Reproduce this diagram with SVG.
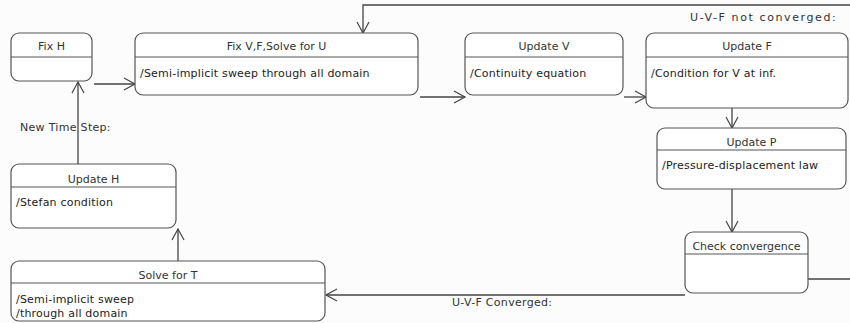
<svg xmlns="http://www.w3.org/2000/svg" width="850" height="323" viewBox="0 0 850 323">
<style>
.box{fill:#fff;stroke:#555;stroke-width:1.2}
.div{stroke:#555;stroke-width:1.2}
.hd{font-family:"DejaVu Sans","Liberation Sans",sans-serif;font-size:11px;fill:#333;text-anchor:middle}
.bd{font-family:"DejaVu Sans","Liberation Sans",sans-serif;font-size:11px;letter-spacing:0.2px;fill:#222}
.lbl{font-family:"DejaVu Sans","Liberation Sans",sans-serif;font-size:11px;letter-spacing:0.3px;fill:#333}
.cn{fill:none;stroke:#444;stroke-width:1.3}
</style>
<defs>
<marker id="ah" markerWidth="14" markerHeight="14" refX="12" refY="7" orient="auto" markerUnits="userSpaceOnUse">
<path d="M1,1 L12,7 L1,13" fill="none" stroke="#444" stroke-width="1.2"/>
</marker>
</defs>
<rect width="850" height="323" fill="#fcfcfc"/>
<g id="connectors">
<path class="cn" d="M94,84 L135,84" marker-end="url(#ah)"/>
<path class="cn" d="M420,97 L465,97" marker-end="url(#ah)"/>
<path class="cn" d="M624,97 L646,97" marker-end="url(#ah)"/>
<path class="cn" d="M850,5 L363,5 L363,33" marker-end="url(#ah)"/>
<path class="cn" d="M732,108 L732,128" marker-end="url(#ah)"/>
<path class="cn" d="M732,189 L732,232" marker-end="url(#ah)"/>
<path class="cn" d="M808,279 L850,279"/>
<path class="cn" d="M685,295 L326,295" marker-end="url(#ah)"/>
<path class="cn" d="M178,261 L178,229" marker-end="url(#ah)"/>
<path class="cn" d="M78,164 L78,82" marker-end="url(#ah)"/>
<text class="lbl" x="20" y="131">New Time Step:</text>
<text class="lbl" x="690" y="21" textLength="146" lengthAdjust="spacing">U-V-F not converged:</text>
<text class="lbl" x="452" y="306">U-V-F Converged:</text>
</g>
<g id="fixH">
<rect class="box" x="11" y="33" width="81" height="48" rx="8"/>
<line class="div" x1="11" y1="57" x2="92" y2="57"/>
<text class="hd" x="51.5" y="50">Fix H</text>
</g>
<g id="fixVF">
<rect class="box" x="135" y="33" width="283" height="62" rx="8"/>
<line class="div" x1="135" y1="57" x2="418" y2="57"/>
<text class="hd" x="276.5" y="50">Fix V,F,Solve for U</text>
<text class="bd" x="140" y="77">/Semi-implicit sweep through all domain</text>
</g>
<g id="updateV">
<rect class="box" x="465" y="33" width="158" height="62" rx="8"/>
<line class="div" x1="465" y1="57" x2="623" y2="57"/>
<text class="hd" x="544" y="50">Update V</text>
<text class="bd" x="470" y="77">/Continuity equation</text>
</g>
<g id="updateF">
<rect class="box" x="646" y="33" width="202" height="75" rx="8"/>
<line class="div" x1="646" y1="57" x2="848" y2="57"/>
<text class="hd" x="747" y="50">Update F</text>
<text class="bd" x="651" y="77">/Condition for V at inf.</text>
</g>
<g id="updateP">
<rect class="box" x="657" y="128" width="189" height="61" rx="8"/>
<line class="div" x1="657" y1="150" x2="846" y2="150"/>
<text class="hd" x="751.5" y="146">Update P</text>
<text class="bd" x="662" y="169">/Pressure-displacement law</text>
</g>
<g id="checkConv">
<rect class="box" x="685" y="232" width="123" height="61" rx="8"/>
<line class="div" x1="685" y1="254" x2="808" y2="254"/>
<text class="hd" x="746.5" y="250">Check convergence</text>
</g>
<g id="updateH">
<rect class="box" x="11" y="164" width="165" height="64" rx="8"/>
<line class="div" x1="11" y1="187" x2="176" y2="187"/>
<text class="hd" x="93.5" y="183">Update H</text>
<text class="bd" x="16" y="206">/Stefan condition</text>
</g>
<g id="solveT">
<rect class="box" x="11" y="261" width="314" height="60" rx="8"/>
<line class="div" x1="11" y1="283" x2="325" y2="283"/>
<text class="hd" x="168" y="279">Solve for T</text>
<text class="bd" x="16" y="303">/Semi-implicit sweep</text>
<text class="bd" x="16" y="317">/through all domain</text>
</g>
</svg>
